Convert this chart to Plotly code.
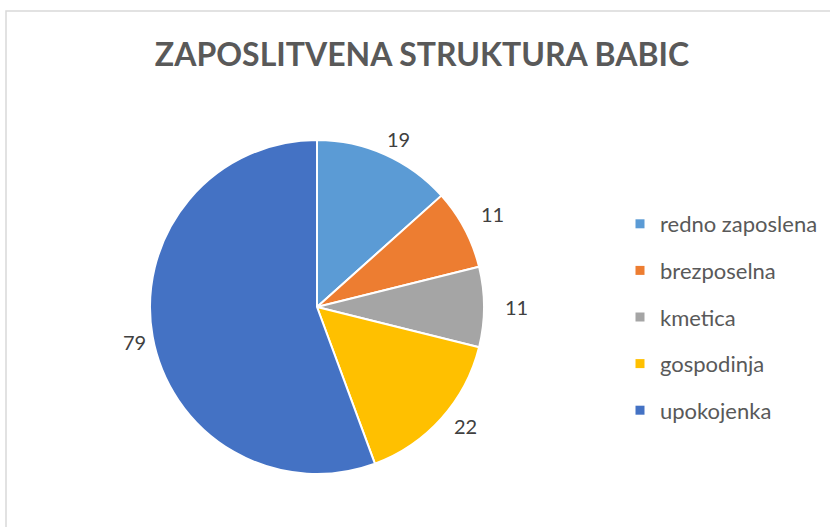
import numpy as np
import plotly.graph_objects as go

# Podatki
kategorije = ['redno zaposlena', 'brezposelna', 'kmetica', 'gospodinja', 'upokojenka']
vrednosti = [19, 11, 11, 22, 79]
barve = ['#5B9BD5', '#ED7D31', '#A5A5A5', '#FFC000', '#4472C4']

W, H = 830, 527
FONT = 'Lato'

# geometrija torte (v pikslih)
cx, cy, r = 317, 307, 167
r_lab = 199

fig = go.Figure()

fig.add_trace(go.Pie(
    labels=kategorije, values=vrednosti, sort=False,
    direction='clockwise', rotation=0,
    marker=dict(colors=barve, line=dict(color='white', width=2)),
    textinfo='none', hoverinfo='label+value', showlegend=False,
    domain=dict(x=[(cx - r) / W, (cx + r) / W], y=[(H - cy - r) / H, (H - cy + r) / H]),
))

# legenda z loceno postavitvijo (vecji razmik)
for k, b in zip(kategorije, barve):
    fig.add_trace(go.Scatter(
        x=[None], y=[None], mode='markers', name=k, legendgroup=k,
        marker=dict(symbol='square', size=9, color=b),
    ))

# oznake vrednosti zunaj torte
skupaj = sum(vrednosti)
kum = np.cumsum([0] + vrednosti)
annotations = []
for i, v in enumerate(vrednosti):
    kot = (kum[i] + v / 2) / skupaj * 2 * np.pi
    annotations.append(dict(
        x=(cx + r_lab * np.sin(kot)) / W, y=(H - cy + r_lab * np.cos(kot)) / H,
        xref='paper', yref='paper', text=str(v), showarrow=False,
        font=dict(family=FONT, size=20, color='#404040'),
    ))

fig.update_layout(
    width=W, height=H,
    margin=dict(l=0, r=0, t=0, b=0),
    paper_bgcolor='white', plot_bgcolor='white',
    title=dict(text='<b>ZAPOSLITVENA STRUKTURA BABIC</b>', x=422 / W, y=1 - 55 / H,
               xanchor='center', yanchor='middle',
               font=dict(family=FONT, size=32, color='#595959')),
    xaxis=dict(visible=False), yaxis=dict(visible=False),
    legend=dict(x=620 / W, y=1 - 317 / H, xanchor='left', yanchor='middle',
                font=dict(family=FONT, size=22, color='#595959'),
                tracegroupgap=15, itemclick=False),
    annotations=annotations,
    shapes=[dict(type='rect', xref='paper', yref='paper',
                 x0=6 / W, x1=1.02, y0=-0.02, y1=1 - 11 / H,
                 line=dict(color='#D9D9D9', width=1.5))],
)

fig.write_html("out.html", config={'displayModeBar': False},
               post_script="document.body.style.margin='0';")
